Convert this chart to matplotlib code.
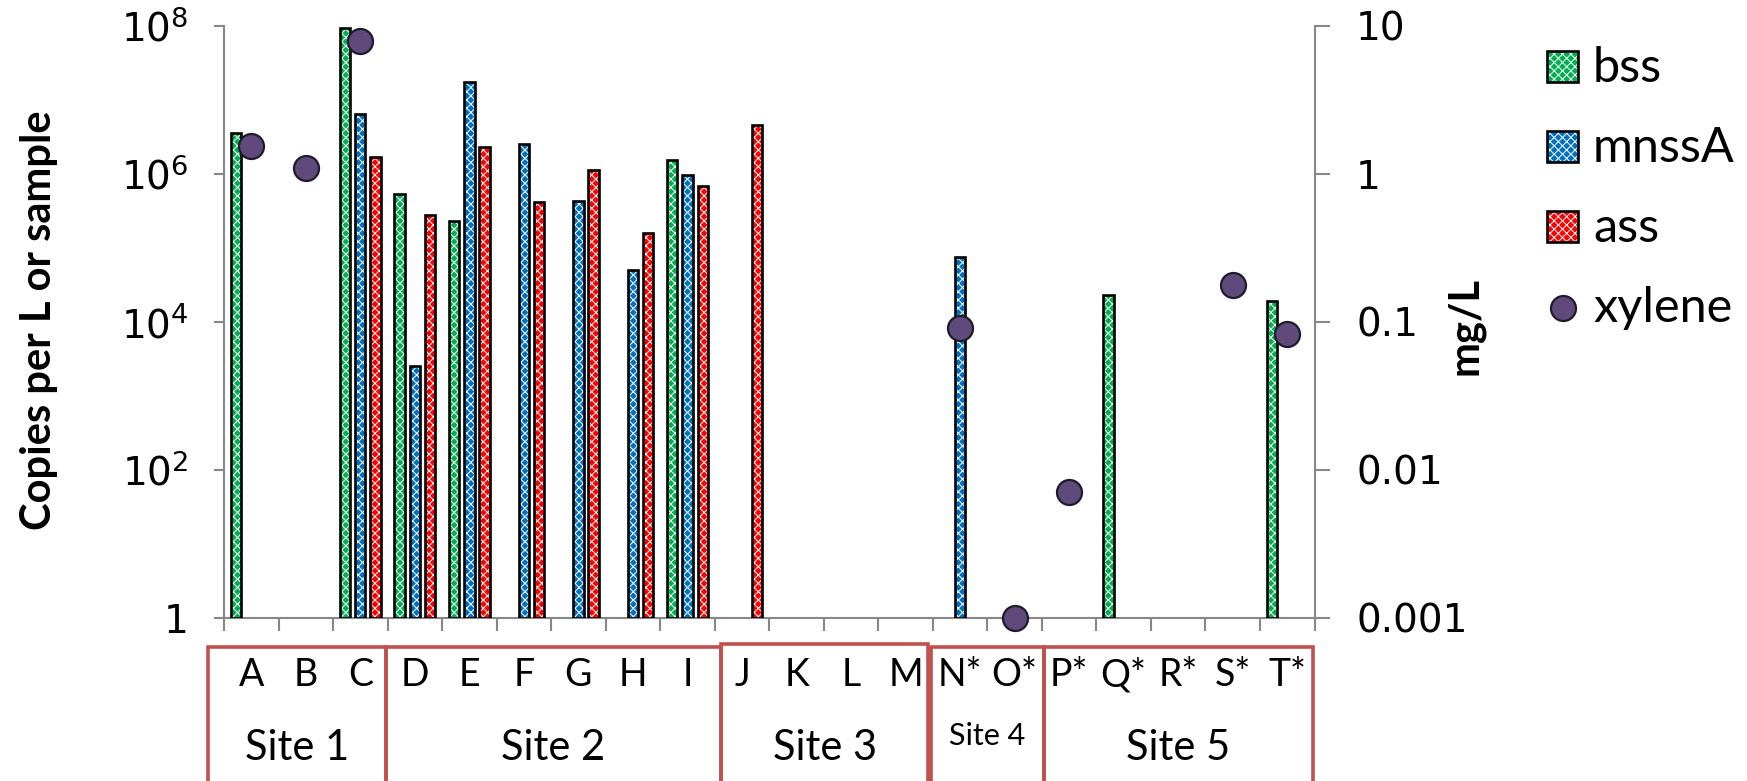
import numpy as np
import matplotlib
matplotlib.use('Agg')
import matplotlib.pyplot as plt
from matplotlib.patches import Rectangle
from matplotlib.lines import Line2D
from matplotlib.transforms import blended_transform_factory
from matplotlib.ticker import NullLocator

# ---------------- data ----------------
categories = ['A', 'B', 'C', 'D', 'E', 'F', 'G', 'H', 'I', 'J',
              'K', 'L', 'M', 'N*', 'O*', 'P*', 'Q*', 'R*', 'S*', 'T*']
nan = np.nan
bss = [3.6e6, nan, 9.3e7, 5.4e5, 2.3e5, nan, nan, nan, 1.55e6, nan,
       nan, nan, nan, nan, nan, nan, 2.3e4, nan, nan, 1.9e4]
mnssA = [nan, nan, 6.5e6, 2.5e3, 1.73e7, 2.5e6, 4.3e5, 5.0e4, 9.7e5, nan,
         nan, nan, nan, 7.6e4, nan, nan, nan, nan, nan, nan]
ass = [nan, nan, 1.66e6, 2.76e5, 2.3e6, 4.2e5, 1.13e6, 1.6e5, 6.9e5, 4.6e6,
       nan, nan, nan, nan, nan, nan, nan, nan, nan, nan]
xylene = [1.54, 1.1, 7.9, nan, nan, nan, nan, nan, nan, nan,
          nan, nan, nan, 0.091, 0.001, 0.00703, nan, nan, 0.177, 0.083]
series_names = ['bss', 'mnssA', 'ass', 'xylene']
site_labels = ['Site 1', 'Site 2', 'Site 3', 'Site 4', 'Site 5']
left_ticks = [1, 1e2, 1e4, 1e6, 1e8]
left_tick_labels = ['1', '$10^{2}$', '$10^{4}$', '$10^{6}$', '$10^{8}$']
right_ticks = [0.001, 0.01, 0.1, 1, 10]
right_tick_labels = ['0.001', '0.01', '0.1', '1', '10']

# ---------------- style ----------------
W, H = 1747, 781
GRAY = '#878787'
COLS = ['#00b050', '#0070c0', '#ff0000']
XYL_FACE = '#604a7b'
XYL_EDGE = '#1e1b2a'
BOX = '#c0504d'
FONT = 'Lato'
HATCH = 'xxxx'
plt.rcParams['hatch.linewidth'] = 0.7

fig = plt.figure(figsize=(W / 100, H / 100), dpi=100)
ax = fig.add_axes([224 / W, 1 - 617.7 / H, 1090.5 / W, 592 / H])
ax.set_yscale('log')

x = np.arange(len(categories)) + 0.5
bw = 0.19
offsets = [-0.28, 0.0, 0.28]
for vals, off, col in zip([bss, mnssA, ass], offsets, COLS):
    v = np.array(vals, float)
    m = ~np.isnan(v)
    ax.bar(x[m] + off, v[m] - 1, bw, bottom=1, color=col, edgecolor='white',
           hatch=HATCH, linewidth=0, zorder=2)
    ax.bar(x[m] + off, v[m] - 1, bw, bottom=1, fill=False, edgecolor='black',
           linewidth=1.9, zorder=3)

ax.set_xlim(0, len(categories))
ax.set_ylim(1, 1e8)
ax.set_yticks(left_ticks)
ax.set_yticklabels(left_tick_labels)
ax.yaxis.set_minor_locator(NullLocator())
ax.set_xticks(np.arange(len(categories) + 1))
ax.set_xticklabels([])
ax.tick_params(axis='x', length=9.5, width=1.5, color=GRAY, direction='out')
ax.tick_params(axis='y', length=7.5, width=1.5, color=GRAY, pad=18,
               labelsize=28, direction='out')
for s in ['top', 'right']:
    ax.spines[s].set_visible(False)
for s in ['left', 'bottom']:
    ax.spines[s].set_color(GRAY)
    ax.spines[s].set_linewidth(1.5)

ax2 = ax.twinx()
ax2.set_yscale('log')
ax2.set_ylim(1e-3, 10)
ax2.set_yticks(right_ticks)
ax2.set_yticklabels(right_tick_labels)
ax2.yaxis.set_minor_locator(NullLocator())
ax2.tick_params(axis='y', length=10.5, width=1.5, color=GRAY, pad=19.5,
                labelsize=28, direction='out')
for s in ['top', 'left', 'bottom']:
    ax2.spines[s].set_visible(False)
ax2.spines['right'].set_color(GRAY)
ax2.spines['right'].set_linewidth(1.5)
xy = np.array(xylene, float)
mx = ~np.isnan(xy)
ax2.plot(x[mx], xy[mx], 'o', ms=18, mfc=XYL_FACE, mec=XYL_EDGE, mew=1.6,
         clip_on=False, zorder=5)

# axis titles
fig.text(39 / W, 1 - 320 / H, 'Copies per L or sample', rotation=90,
         ha='center', va='center', fontsize=30, fontweight='bold', family=FONT)
fig.text(1465 / W, 1 - 326 / H, 'mg/L', rotation=90, ha='center',
         va='center', fontsize=30, fontweight='bold', family=FONT)

# category labels and site boxes
bt = blended_transform_factory(ax.transData, fig.transFigure)
for xi, c in zip(x, categories):
    fig.text(xi, 1 - 686 / H, c, transform=bt, ha='center', va='baseline',
             fontsize=27, family=FONT)

box_spans = [(-0.29, 2.97), (2.97, 9.11), (9.11, 12.92), (12.97, 15.03), (15.03, 19.97)]
box_tops = [647, 647, 644, 647, 647]
site_sizes = [30, 30, 30, 22, 30]
site_base = [760, 760, 760, 745, 760]
for (x0, x1), top, lab, fs, bl in zip(box_spans, box_tops, site_labels,
                                      site_sizes, site_base):
    r = Rectangle((x0, 1 - 790 / H), x1 - x0, (790 - top) / H, transform=bt,
                  fill=False, edgecolor=BOX, linewidth=2.6, clip_on=False)
    fig.add_artist(r)
    fig.text((x0 + x1) / 2, 1 - bl / H, lab, transform=bt, ha='center',
             va='baseline', fontsize=fs, family=FONT)

# legend (manual)
for i, (name, col) in enumerate(zip(series_names[:3], COLS)):
    yb = 81.7 + 80 * i
    r1 = Rectangle((1547 / W, 1 - yb / H), 31 / W, 31 / H, transform=fig.transFigure,
                   facecolor=col, edgecolor='white', hatch=HATCH, linewidth=0)
    r2 = Rectangle((1547 / W, 1 - yb / H), 31 / W, 31 / H, transform=fig.transFigure,
                   fill=False, edgecolor='black', linewidth=1.9)
    fig.add_artist(r1)
    fig.add_artist(r2)
    fig.text(1593 / W, 1 - yb / H, name, ha='left', va='baseline', fontsize=35,
             family=FONT)
fig.add_artist(Line2D([1562.5 / W], [1 - 308 / H], marker='o', ms=18,
                      mfc=XYL_FACE, mec=XYL_EDGE, mew=1.6, linestyle='none',
                      transform=fig.transFigure))
fig.text(1593 / W, 1 - 321.7 / H, series_names[3], ha='left', va='baseline',
         fontsize=35, family=FONT)

fig.savefig('out.png', dpi=100)
